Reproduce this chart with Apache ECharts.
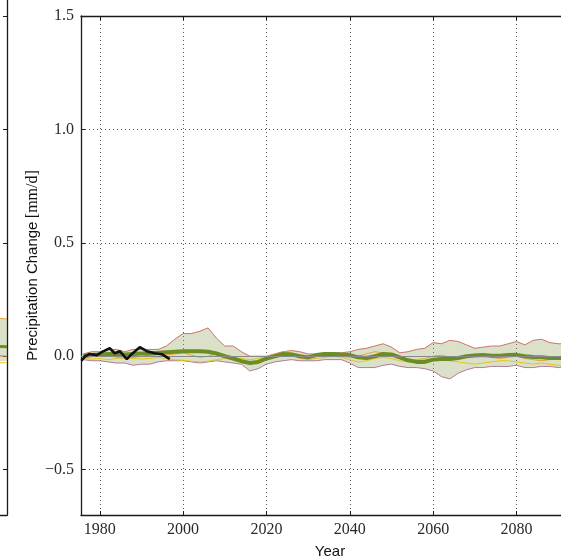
<!DOCTYPE html>
<html>
<head>
<meta charset="utf-8">
<title>Precipitation Change</title>
<script src="https://cdn.jsdelivr.net/npm/echarts@6/dist/echarts.min.js"></script>
<style>
  html, body { margin: 0; padding: 0; background: #fff; }
  #chart { width: 561px; height: 560px; }
</style>
</head>
<body>
<div id="chart"></div>
<script>
// running means, one value every 2 years
var years = [1976,1978,1980,1982,1984,1986,1988,1990,1992,1994,
             1996,1998,2000,2002,2004,2006,2008,2010,2012,2014,
             2016,2018,2020,2022,2024,2026,2028,2030,2032,2034,
             2036,2038,2040,2042,2044,2046,2048,2050,2052,2054,
             2056,2058,2060,2062,2064,2066,2068,2070,2072,2074,
             2076,2078,2080,2082,2084,2086,2088,2090,2092,2094];

// model spread (upper / lower envelope)
var bandUpper = [0.01,0.02,0.02,0.03,0.03,0.02,0.03,0.03,0.03,0.03,
                 0.045,0.075,0.10,0.10,0.11,0.125,0.08,0.045,0.045,0.02,
                 0.0,0.0,0.0,0.01,0.02,0.025,0.02,0.01,0.01,0.015,
                 0.015,0.015,0.02,0.03,0.035,0.045,0.055,0.04,0.015,0.02,
                 0.03,0.035,0.06,0.055,0.07,0.065,0.05,0.035,0.04,0.045,
                 0.045,0.055,0.065,0.05,0.07,0.075,0.06,0.055,0.055,0.05];
var bandLower = [-0.015,-0.02,-0.02,-0.025,-0.03,-0.03,-0.04,-0.035,-0.035,-0.025,
                 -0.02,-0.02,-0.02,-0.025,-0.03,-0.025,-0.02,-0.025,-0.03,-0.035,
                 -0.065,-0.055,-0.035,-0.025,-0.02,-0.015,-0.02,-0.02,-0.02,-0.015,
                 -0.015,-0.015,-0.03,-0.05,-0.05,-0.05,-0.04,-0.035,-0.045,-0.05,
                 -0.05,-0.055,-0.065,-0.09,-0.10,-0.075,-0.06,-0.05,-0.05,-0.045,
                 -0.045,-0.045,-0.04,-0.05,-0.05,-0.045,-0.045,-0.05,-0.05,-0.05];

// ensemble mean
var meanLine = [0.0,0.005,0.008,0.01,0.01,0.008,0.01,0.012,0.012,0.015,
                0.018,0.02,0.022,0.022,0.022,0.02,0.012,0.0,-0.01,-0.022,
                -0.03,-0.025,-0.01,0.0,0.01,0.008,0.0,-0.005,0.005,0.01,
                0.01,0.008,0.005,-0.005,-0.008,0.0,0.01,0.008,-0.005,-0.018,
                -0.025,-0.025,-0.015,-0.012,-0.012,-0.008,0.0,0.003,0.005,0.002,
                0.002,0.005,0.006,0.0,-0.003,-0.005,-0.008,-0.008,-0.008,-0.01];

// single models
var modelOrange = [0.0,0.005,0.01,0.005,-0.005,-0.01,-0.005,0.0,0.005,0.0,
                   0.005,0.01,0.015,0.005,-0.005,0.0,0.01,0.005,-0.01,-0.02,
                   -0.03,-0.02,-0.005,0.01,0.02,0.015,0.005,0.0,0.0,0.005,
                   0.005,0.0,-0.005,0.0,0.01,0.02,0.015,0.005,-0.01,-0.02,
                   -0.015,-0.01,0.0,0.005,-0.005,-0.01,0.0,0.01,0.005,-0.005,
                   -0.01,-0.005,0.0,-0.01,-0.015,-0.02,-0.015,-0.01,-0.02,-0.025];
var modelYellow = [-0.01,-0.012,-0.01,-0.015,-0.01,-0.005,-0.01,-0.012,-0.01,-0.005,
                   -0.01,-0.015,-0.018,-0.022,-0.025,-0.022,-0.015,-0.01,-0.008,-0.01,
                   -0.015,-0.01,0.0,0.008,0.012,0.005,-0.01,-0.015,-0.01,-0.005,
                   0.0,-0.005,-0.015,-0.025,-0.02,-0.01,-0.005,-0.01,-0.02,-0.025,
                   -0.02,-0.015,-0.012,-0.015,-0.02,-0.025,-0.03,-0.035,-0.03,-0.025,
                   -0.02,-0.02,-0.025,-0.03,-0.035,-0.03,-0.035,-0.04,-0.045,-0.045];

// observations
var obsYears  = [1975.6,1976.5,1977.6,1979.3,1980.7,1982.4,1983.6,1984.8,
                 1986.5,1987.7,1989.6,1991.3,1993.2,1994.9,1996.8];
var obsValues = [-0.02,0.0,0.01,0.005,0.02,0.035,0.013,0.022,
                 -0.013,0.01,0.04,0.022,0.013,0.009,-0.013];

var xTicks = [1980,2000,2020,2040,2060,2080,2100];
var yTicks = [-0.5,0,0.5,1.0,1.5];

// neighbouring panel, only its right edge is visible
var leftYears  = [2086,2090,2095];
var leftUpper  = [0.16,0.17,0.165];
var leftLower  = [-0.02,-0.025,-0.02];
var leftMean   = [0.04,0.045,0.042];
var leftRed    = [0.0,0.005,0.0];
var leftYellow = [-0.025,-0.03,-0.028];

function pairs(xs, ys) {
    return xs.map(function (x, i) { return [x, ys[i]]; });
}
function fmtY(v) {
    var s = Math.abs(v).toFixed(1);
    return v < 0 ? '\u2212' + s : s;
}
// filled spread between two curves, placed through the axes of the series
function bandSeries(xIdx, yIdx, xs, lo, hi, z) {
    return {
        type: 'custom', xAxisIndex: xIdx, yAxisIndex: yIdx, z: z, silent: true,
        data: xs.map(function (x, i) { return [x, lo[i], hi[i]]; }),
        encode: { x: 0, y: [1, 2] },
        renderItem: function (params, api) {
            if (params.dataIndex !== 0) return;
            var pts = [];
            for (var i = 0; i < xs.length; i++) pts.push(api.coord([xs[i], hi[i]]));
            for (var j = xs.length - 1; j >= 0; j--) pts.push(api.coord([xs[j], lo[j]]));
            return {
                type: 'polygon',
                shape: { points: pts },
                style: { fill: 'rgba(150,165,95,0.34)', stroke: null }
            };
        }
    };
}
function plainLine(xIdx, yIdx, xs, ys, color, width, z) {
    return {
        type: 'line', xAxisIndex: xIdx, yAxisIndex: yIdx, data: pairs(xs, ys),
        symbol: 'none', z: z, silent: true, lineStyle: { color: color, width: width }
    };
}

var serif = 'Liberation Serif';
var sans = 'Liberation Sans';
var spine = { color: '#1a1a1a', width: 1.3 };
var dotted = { show: true, lineStyle: { color: '#555', type: [1, 3], width: 1 } };

var chart = echarts.init(document.getElementById('chart'));

var zeroLine = plainLine(0, 0, years, modelYellow, '#e6c619', 1, 3);
zeroLine.markLine = {
    silent: true, symbol: 'none', label: { show: false },
    lineStyle: { color: '#8a8a8a', type: 'solid', width: 1.2 },
    data: [{ yAxis: 0 }]
};

var option = {
    animation: false,
    grid: [
        { left: 81, right: -18, top: 16, bottom: 45, outerBoundsMode: 'none', containLabel: false },
        { left: -420, right: 554, top: -29, bottom: 45, outerBoundsMode: 'none', containLabel: false }
    ],
    xAxis: [
        {
            type: 'value', gridIndex: 0, min: 1975.5, max: 2095, position: 'bottom',
            axisLine: { show: true, onZero: false, lineStyle: spine },
            axisTick: { show: true, inside: true, length: 4, customValues: xTicks, lineStyle: { color: '#1a1a1a' } },
            axisLabel: { customValues: xTicks, formatter: function (v) { return String(v); },
                         margin: 7, fontFamily: serif, fontSize: 16, color: '#2a2a2a' },
            splitLine: dotted,
            name: 'Year', nameLocation: 'middle', nameGap: 29,
            nameTextStyle: { fontFamily: sans, fontSize: 15, color: '#111' }
        },
        {
            type: 'value', gridIndex: 0, min: 1975.5, max: 2095, position: 'top',
            axisLine: { show: true, onZero: false, lineStyle: spine },
            axisTick: { show: true, inside: true, length: 4, customValues: xTicks, lineStyle: { color: '#1a1a1a' } },
            axisLabel: { show: false },
            splitLine: { show: false }
        },
        {
            type: 'value', gridIndex: 1, min: 1975.5, max: 2095, position: 'bottom',
            axisLine: { show: true, onZero: false, lineStyle: spine },
            axisTick: { show: false },
            axisLabel: { show: false },
            splitLine: { show: false }
        }
    ],
    yAxis: [
        {
            type: 'value', gridIndex: 0, min: -0.7, max: 1.5, position: 'left',
            axisLine: { show: true, onZero: false, lineStyle: spine },
            axisTick: { show: true, inside: true, length: 4, customValues: yTicks, lineStyle: { color: '#1a1a1a' } },
            axisLabel: { customValues: yTicks, formatter: fmtY, margin: 7, fontFamily: serif, fontSize: 16, color: '#2a2a2a' },
            splitLine: dotted,
            name: '{a|Precipitation Change} {b|[mm/d]}',
            nameLocation: 'middle', nameGap: 40, nameRotate: 90, nameMoveOverlap: false,
            nameTextStyle: {
                rich: {
                    a: { fontFamily: sans, fontSize: 15, color: '#111' },
                    b: { fontFamily: serif, fontSize: 16, color: '#111' }
                }
            }
        },
        {
            type: 'value', gridIndex: 1, min: -0.7, max: 1.7, position: 'right',
            axisLine: { show: true, onZero: false, lineStyle: spine },
            axisTick: { show: true, inside: true, length: 4, customValues: yTicks, lineStyle: { color: '#1a1a1a' } },
            axisLabel: { show: false },
            splitLine: { show: false }
        }
    ],
    series: [
        bandSeries(0, 0, years, bandLower, bandUpper, 2),
        plainLine(0, 0, years, bandLower, '#a8708c', 0.9, 3),
        plainLine(0, 0, years, bandUpper, '#c8645a', 0.9, 3),
        zeroLine,
        plainLine(0, 0, years, modelOrange, '#e8a33c', 1, 3),
        plainLine(0, 0, years, meanLine, '#6b8e23', 4, 4),
        plainLine(0, 0, obsYears, obsValues, '#111', 2.6, 5),
        // left panel
        bandSeries(2, 1, leftYears, leftLower, leftUpper, 2),
        plainLine(2, 1, leftYears, leftUpper, '#e8a33c', 1, 3),
        plainLine(2, 1, leftYears, leftRed, '#c8645a', 1, 3),
        plainLine(2, 1, leftYears, leftYellow, '#e6c619', 1, 3),
        plainLine(2, 1, leftYears, leftMean, '#6b8e23', 3, 4)
    ]
};

chart.setOption(option);
</script>
</body>
</html>
